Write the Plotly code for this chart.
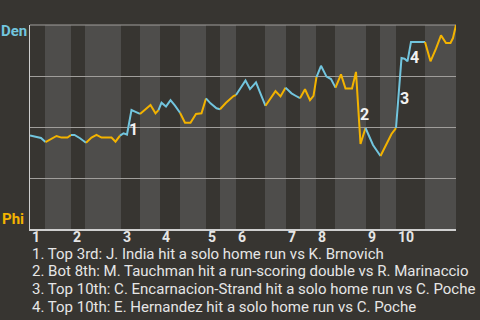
import plotly.graph_objects as go

# ---- data ----
team_top = "Den"
team_bottom = "Phi"

# half-inning boundaries on the play axis (top 1st ... bottom 10th)
half_edges = [0, 3.0, 8.2, 11.0, 18.2, 22.0, 26.0, 30.0, 35.2, 38.0, 41.2,
              47.0, 51.2, 54.0, 57.2, 61.0, 67.2, 70.0, 73.2, 79.0, 85.2]
inning_labels = ["1", "2", "3", "4", "5", "6", "7", "8", "9", "10"]

plays_per_half = [4, 5, 3, 7, 5, 4, 5, 5, 3, 3, 6, 4, 3, 4, 4, 7, 2, 3, 7, 7]

play_x = [0, 1.3, 2.2, 3.1,
          4.2, 5.3, 6.3, 7.5, 8.2,
          8.9, 10.0, 11.2,
          12.3, 13.3, 14.3, 15.3, 16.3, 17.1, 18.0,
          18.7, 19.4, 20.3, 21.0, 22.0,
          23.0, 24.1, 25.1, 25.7,
          26.3, 27.2, 28.1, 29.0, 30.0,
          31.0, 32.1, 33.2, 34.3, 35.2,
          36.1, 37.3, 38.0,
          39.2, 40.7, 41.2,
          42.3, 43.1, 44.0, 45.2, 46.0, 47.1,
          48.2, 49.1, 50.1, 51.1,
          52.3, 53.2, 54.0,
          55.0, 56.0, 56.7, 57.3,
          58.2, 59.3, 60.2, 61.1,
          62.2, 63.1, 64.4, 65.2, 65.4, 66.1, 67.1,
          68.6, 70.1,
          71.3, 72.3, 73.2,
          74.3, 74.9, 75.5, 76.2, 77.2, 78.1, 79.0,
          80.1, 81.2, 82.2, 83.2, 84.1, 84.6, 85.2]

den_win_pct = [45.8, 45.3, 44.6, 42.6,
               44.1, 45.6, 44.8, 44.8, 46.1,
               46.1, 44.5, 42.3,
               44.8, 46.1, 44.8, 44.8, 44.8, 42.8, 45.8,
               46.9, 46.3, 58.3, 57.5, 56.4,
               58.3, 60.8, 56.7, 58.3,
               61.9, 60.0, 63.2, 60.5, 57.0,
               52.1, 52.1, 56.4, 56.7, 64.0,
               61.6, 59.2, 58.7,
               61.9, 65.2, 65.7,
               69.8, 72.8, 68.6, 71.9, 67.0, 60.4,
               64.4, 67.6, 65.0, 69.3,
               66.5, 65.2, 64.1,
               68.5, 63.2, 65.3, 74.5,
               80.0, 74.7, 73.5, 69.3,
               75.8, 68.9, 68.9, 77.0, 69.6, 41.7, 49.5,
               41.2, 35.8,
               42.0, 46.6, 49.5,
               83.8, 83.5, 82.2, 91.7, 91.7, 91.7, 91.7,
               82.2, 88.4, 94.9, 91.2, 91.2, 93.6, 100.0]

event_labels = ["1", "2", "3", "4"]
event_x = [20.7, 66.8, 74.8, 76.9]
event_pct = [48.9, 56.3, 63.8, 84.1]

notes = [
    "1. Top 3rd: J. India hit a solo home run vs K. Brnovich",
    "2. Bot 8th: M. Tauchman hit a run-scoring double vs R. Marinaccio",
    "3. Top 10th: C. Encarnacion-Strand hit a solo home run vs C. Poche",
    "4. Top 10th: E. Hernandez hit a solo home run vs C. Poche",
]

# ---- style ----
BG = "#373531"
BAND = "#4e4d4b"
BLUE = "#72c5de"
YELLOW = "#f3b300"
GRID = "#a09e9b"
AXIS = "#cfcfcf"
TEXT = "#e6e6e6"
FONT = "Roboto"

fig = go.Figure()

start = 0
for h, n in enumerate(plays_per_half):
    lo = max(start - 1, 0)
    xs = play_x[lo:start + n]
    ys = den_win_pct[lo:start + n]
    fig.add_trace(go.Scatter(
        x=xs, y=ys, mode="lines",
        line=dict(color=BLUE if h % 2 == 0 else YELLOW, width=2),
        hoverinfo="skip", showlegend=False))
    start += n

shapes = []
for i in range(len(half_edges) - 1):
    shapes.append(dict(type="rect", xref="x", yref="paper",
                       x0=half_edges[i], x1=half_edges[i + 1], y0=0, y1=1,
                       fillcolor=BG if i % 2 == 0 else BAND,
                       line=dict(width=0), layer="below"))
# top border of the plot area
shapes.append(dict(type="line", xref="paper", yref="paper",
                   x0=0, x1=1, y0=1, y1=1,
                   line=dict(color=GRID, width=1.2), layer="below"))

annotations = []
for i, lab in enumerate(inning_labels):
    annotations.append(dict(x=half_edges[2 * i], y=0, xref="x", yref="paper",
                            text="<b>%s</b>" % lab, showarrow=False,
                            xanchor="left", yanchor="middle", yshift=-8,
                            font=dict(family=FONT, size=14, color=TEXT)))

for lab, ex, ey in zip(event_labels, event_x, event_pct):
    annotations.append(dict(x=ex, y=ey, xref="x", yref="y",
                            text="<b>%s</b>" % lab, showarrow=False,
                            xanchor="center", yanchor="middle",
                            font=dict(family=FONT, size=16, color="#f2f2f2")))

annotations.append(dict(x=0, y=1, xref="paper", yref="paper",
                        text="<b>%s</b>" % team_top, showarrow=False,
                        xanchor="right", yanchor="middle", xshift=-1, yshift=-6,
                        font=dict(family=FONT, size=15, color=BLUE)))
annotations.append(dict(x=0, y=0, xref="paper", yref="paper",
                        text="<b>%s</b>" % team_bottom, showarrow=False,
                        xanchor="right", yanchor="middle", xshift=-4, yshift=10,
                        font=dict(family=FONT, size=15, color=YELLOW)))

for i, note in enumerate(notes):
    annotations.append(dict(x=0, y=0, xref="paper", yref="paper",
                            text=note, showarrow=False,
                            xanchor="left", yanchor="middle",
                            yshift=-(24.5 + 17.7 * i),
                            font=dict(family=FONT, size=15, color=TEXT)))

fig.update_layout(
    width=480, height=320,
    margin=dict(l=30, r=24, t=25, b=91, pad=0),
    paper_bgcolor=BG, plot_bgcolor=BG,
    shapes=shapes, annotations=annotations,
    xaxis=dict(range=[half_edges[0], half_edges[-1]], showgrid=False,
               zeroline=False, showticklabels=False, ticks="",
               showline=True, linecolor=AXIS, linewidth=1.5),
    yaxis=dict(range=[0, 100], tickvals=[25, 50, 75], showgrid=True,
               gridcolor=GRID, gridwidth=1.2, zeroline=False,
               showticklabels=False, ticks="",
               showline=True, linecolor=AXIS, linewidth=1.2),
)

fig.write_html("out.html")
